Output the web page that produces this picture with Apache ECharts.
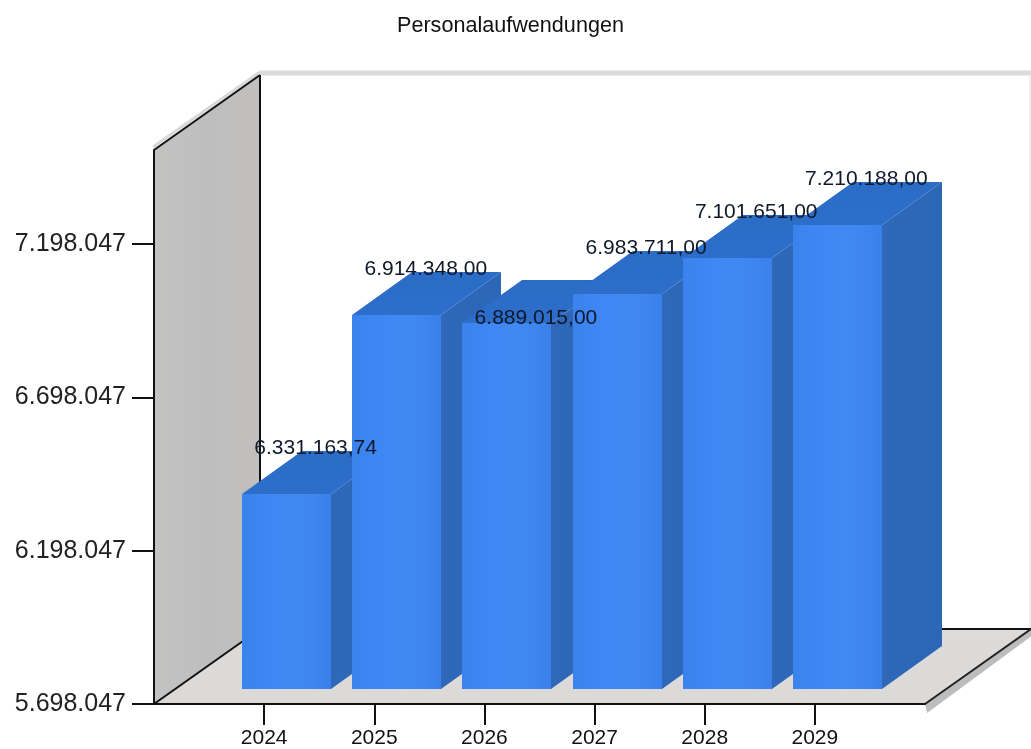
<!DOCTYPE html>
<html>
<head>
<meta charset="utf-8">
<title>Personalaufwendungen</title>
<script src="https://cdn.jsdelivr.net/npm/echarts@6/dist/echarts.min.js"></script>
<style>
html,body{margin:0;padding:0;background:#fff;}
#chart{width:1031px;height:749px;}
</style>
</head>
<body>
<div id="chart"></div>
<script>
var chartTitle = 'Personalaufwendungen';
var years = [2024, 2025, 2026, 2027, 2028, 2029];
var values = [6331163.74, 6914348.00, 6889015.00, 6983711.00, 7101651.00, 7210188.00];
var yTicks = [5698047, 6198047, 6698047, 7198047];
var yMin = 5698047;
var yMax = 7504500;
var xMin = 2023;
var xMax = 2030;

// depth of the fake 3D box, in pixels
var wallDx = 106, wallDy = 75;
var barOffX = 22.5, barOffY = 15.5;
var barDx = 60, barDy = 43;
var barWidth = 89;
var labelOffX = 29, labelOffY = 46, labelH = 24, labelDrop = 41;

function dotted(v) {
	return String(v).replace(/\B(?=(\d{3})+$)/g, '.');
}
function valueText(v) {
	var p = v.toFixed(2).split('.');
	return dotted(p[0]) + ',' + p[1];
}
function poly(points, fill, z2) {
	return {type: 'polygon', z2: z2 || 0, shape: {points: points}, style: {fill: fill, stroke: null}};
}
function line(a, b, color, width, z2) {
	return {type: 'line', z2: z2 || 1, shape: {x1: a[0], y1: a[1], x2: b[0], y2: b[1]}, style: {stroke: color, lineWidth: width}};
}
function grad(x2, y2, stops) {
	var list = [];
	for (var i = 0; i < stops.length; i++) {
		list.push({offset: i / (stops.length - 1), color: stops[i]});
	}
	return new echarts.graphic.LinearGradient(0, 0, x2, y2, list);
}

function renderBox(params, api) {
	var fl = api.coord([xMin, yMin]);
	var fr = api.coord([xMax, yMin]);
	var tl = api.coord([xMin, yMax]);
	var bl = [fl[0] + wallDx, fl[1] - wallDy];
	var br = [fr[0] + wallDx, fr[1] - wallDy];
	var ttl = [tl[0] + wallDx, tl[1] - wallDy];
	var ttr = [br[0], ttl[1]];
	return {type: 'group', children: [
		// shadow under the floor edge
		poly([fr, br, [br[0] + 2, br[1] + 6], [fr[0] + 2, fr[1] + 9]], '#bdbdbd', 0),
		// shadow above the left wall
		line([tl[0] - 1, tl[1] - 3], [ttl[0], ttl[1] - 3], '#d8d8d8', 3, 0),
		line([ttl[0], ttl[1] - 2], [ttr[0], ttr[1] - 2], '#dcdcdc', 5, 0),
		line([ttr[0] - 1, ttr[1]], [br[0] - 1, br[1]], '#efefef', 2, 0),
		poly([fl, fr, br, bl], grad(0, 1, ['#dddbd9', '#dcdad8']), 1),
		poly([tl, ttl, bl, fl], grad(1, 0, ['#c4c3c2', '#bebebe', '#c2c0be']), 1),
		line(tl, ttl, '#111', 2, 2),
		line(ttl, bl, '#111', 2, 2),
		line(fl, bl, '#111', 2, 2),
		line(bl, br, '#111', 2, 2),
		line(fr, br, '#222', 2, 2)
	]};
}

function renderBar(params, api) {
	var top = api.coord([api.value(0), api.value(1)]);
	var bottom = api.coord([api.value(0), yMin]);
	var x0 = Math.round(top[0] + barOffX - barWidth / 2);
	var x1 = x0 + barWidth;
	var yt = Math.round(top[1] - barOffY);
	var yb = Math.round(bottom[1] - barOffY);
	// later bars have to cover the earlier ones
	var base = 10 + params.dataIndex * 3;
	// side and top run 1px under the front face so no seam shows
	return {type: 'group', children: [
		poly([[x1 - 1, yt], [x1, yt], [x1 + barDx, yt - barDy], [x1 + barDx, yb - barDy], [x1, yb], [x1 - 1, yb]], grad(1, 0, ['#2f68b8', '#2c66b6']), base),
		poly([[x0, yt + 1], [x1, yt + 1], [x1, yt], [x1 + barDx, yt - barDy], [x0 + barDx, yt - barDy], [x0, yt]], grad(0, 1, ['#2b6cc6', '#2d6ecb']), base + 1),
		poly([[x0, yt], [x1, yt], [x1, yb], [x0, yb]], grad(1, 0, ['#3a82ec', '#3f87f3', '#4189f2', '#3a80ea']), base + 2)
	]};
}

// the chart moves a label down when it would sit on the one before it
var labelDrops = [];
function computeDrops(pxPerUnit) {
	var prev = null;
	for (var i = 0; i < values.length; i++) {
		var y = -values[i] * pxPerUnit;
		var drop = 0;
		if (prev !== null && Math.abs(y - prev) < labelH) {
			drop = labelDrop;
		}
		labelDrops.push(drop);
		prev = y + drop;
	}
}
computeDrops((704 - 150) / (yMax - yMin));

function renderLabel(params, api) {
	var top = api.coord([api.value(0), api.value(1)]);
	return {
		type: 'text',
		z2: 100,
		style: {
			x: top[0] + barOffX + labelOffX,
			y: top[1] - barOffY - labelOffY + labelDrops[params.dataIndex],
			text: valueText(api.value(1)),
			fill: '#10182a',
			font: '21px "Liberation Sans", Arial, sans-serif',
			align: 'center',
			verticalAlign: 'middle'
		}
	};
}

var barData = [];
for (var i = 0; i < years.length; i++) {
	barData.push([years[i], values[i]]);
}

var option = {
	animation: false,
	backgroundColor: '#fff',
	textStyle: {fontFamily: '"Liberation Sans", Arial, sans-serif'},
	title: {
		text: chartTitle,
		left: 392,
		top: 10,
		textStyle: {color: '#111', fontSize: 21.6, fontWeight: 'normal'}
	},
	grid: {left: 154, top: 150, width: 771, height: 554},
	tooltip: {show: false},
	xAxis: {
		type: 'value',
		min: xMin,
		max: xMax,
		interval: 1,
		z: 5,
		splitLine: {show: false},
		axisLine: {show: true, lineStyle: {color: '#111', width: 2}},
		axisTick: {show: true, length: 21, customValues: years, lineStyle: {color: '#111', width: 2}},
		axisLabel: {customValues: years, color: '#111', fontSize: 21, margin: 24, formatter: function (v) { return String(v); }}
	},
	yAxis: {
		type: 'value',
		min: yMin,
		max: yMax,
		z: 5,
		splitLine: {show: false},
		axisLine: {show: true, lineStyle: {color: '#111', width: 2}},
		axisTick: {show: true, length: 22, customValues: yTicks, lineStyle: {color: '#111', width: 2}},
		axisLabel: {customValues: yTicks, color: '#222', fontSize: 25, margin: 28, padding: [3, 0, 0, 0], formatter: function (v) { return dotted(v); }}
	},
	series: [
		{type: 'custom', z: 1, silent: true, clip: false, data: [[xMin, yMin]], encode: {x: 0, y: 1}, renderItem: renderBox},
		{type: 'custom', z: 2, silent: true, clip: false, data: barData, encode: {x: 0, y: 1}, renderItem: renderBar},
		{type: 'custom', z: 6, silent: true, clip: false, data: barData, encode: {x: 0, y: 1}, renderItem: renderLabel}
	]
};

var myChart = echarts.init(document.getElementById('chart'), null, {renderer: 'canvas'});
myChart.setOption(option);
</script>
</body>
</html>
